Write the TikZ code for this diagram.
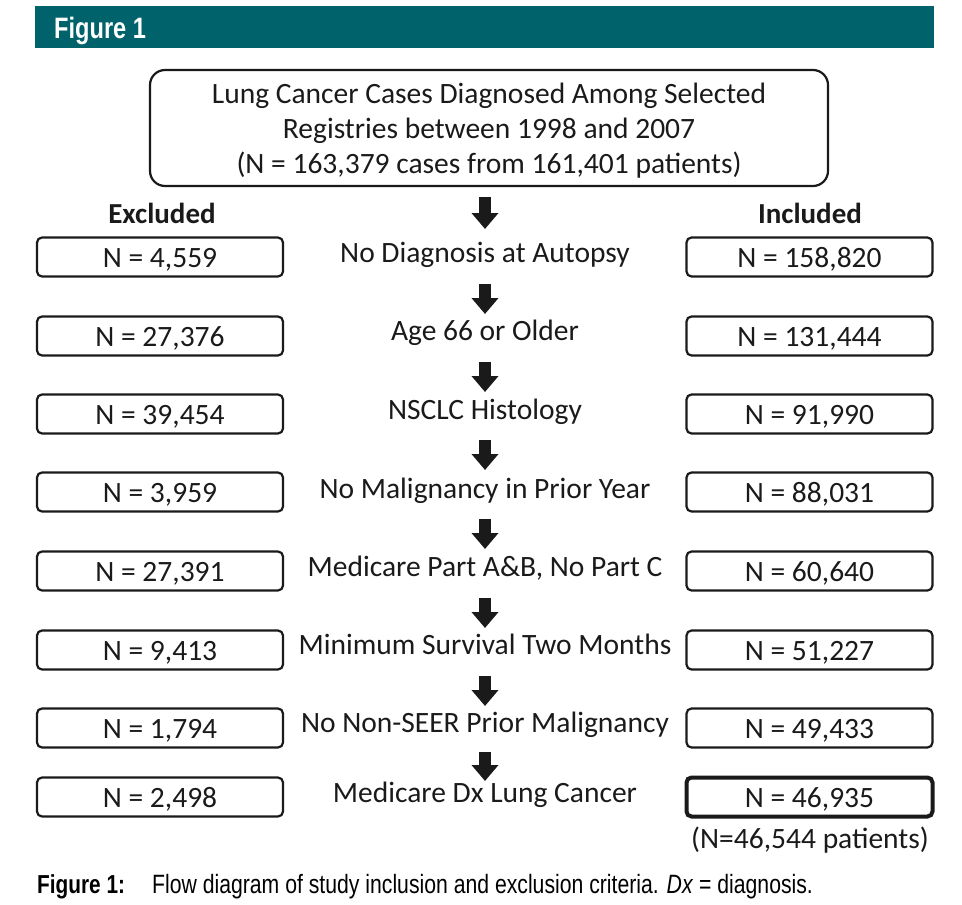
\documentclass[tikz,border=0pt]{standalone}
\usepackage{fontspec}
\setmainfont{Carlito}
\newfontfamily\condfont[FakeStretch=0.80]{Liberation Sans}
\usetikzlibrary{arrows.meta}
\definecolor{teal1}{HTML}{00626A}
\definecolor{ink}{HTML}{1A1A1A}
\tikzset{
  nbox/.style={draw=ink, line width=2.2pt, rounded corners=5pt, minimum width=246pt, minimum height=39pt, inner sep=0pt, text height=20pt, text depth=0pt, font=\fontsize{29.5}{34}\selectfont, text=ink},
  crit/.style={font=\fontsize{29.5}{34}\selectfont, text=ink, inner sep=0pt, anchor=base},
  hdr/.style={font=\bfseries\fontsize{29}{34}\selectfont, text=ink},
  blockarrow/.style={line width=12pt, ink, -{Triangle[width=26pt,length=16pt]}}
}
\begin{document}
\begin{tikzpicture}[x=1pt,y=-1pt]
\useasboundingbox (0,0) rectangle (962,905);
% header
\fill[teal1] (35,6) rectangle (934,48);
\node[anchor=base west, text=white, inner sep=0pt, font=\condfont\bfseries\fontsize{29.5}{32}\selectfont] (fig) at (54,38) {Figure 1};
% top box
\node[draw=ink, line width=2.2pt, rounded corners=15pt, minimum width=678pt, minimum height=116pt] (top) at (489,128) {};
\node[align=center, font=\fontsize{29.5}{35}\selectfont, text=ink, inner sep=0pt] (toptext) at (489,131) {Lung Cancer Cases Diagnosed Among Selected\\Registries between 1998 and 2007\\(N = 163,379 cases from 161,401 patients)};
\node[hdr] (exc) at (162,213) {Excluded};
\node[hdr] (inc) at (810,213) {Included};
% excluded
\node[nbox] (e1) at (160,257) {N = 4,559};
\node[nbox] (e2) at (160,336) {N = 27,376};
\node[nbox] (e3) at (160,414) {N = 39,454};
\node[nbox] (e4) at (160,492) {N = 3,959};
\node[nbox] (e5) at (160,571) {N = 27,391};
\node[nbox] (e6) at (160,650) {N = 9,413};
\node[nbox] (e7) at (160,728) {N = 1,794};
\node[nbox] (e8) at (160,797) {N = 2,498};
% criteria
\node[crit] (m1) at (485,262) {No Diagnosis at Autopsy};
\node[crit] (m2) at (485,340) {Age 66 or Older};
\node[crit] (m3) at (485,419) {NSCLC Histology};
\node[crit] (m4) at (485,498) {No Malignancy in Prior Year};
\node[crit] (m5) at (485,576) {Medicare Part A\&B, No Part C};
\node[crit] (m6) at (485,654) {Minimum Survival Two Months};
\node[crit] (m7) at (485,732) {No Non-SEER Prior Malignancy};
\node[crit] (m8) at (485,802) {Medicare Dx Lung Cancer};
% included
\node[nbox] (r1) at (809.5,257) {N = 158,820};
\node[nbox] (r2) at (809.5,336) {N = 131,444};
\node[nbox] (r3) at (809.5,414) {N = 91,990};
\node[nbox] (r4) at (809.5,492) {N = 88,031};
\node[nbox] (r5) at (809.5,571) {N = 60,640};
\node[nbox] (r6) at (809.5,650) {N = 51,227};
\node[nbox] (r7) at (809.5,728) {N = 49,433};
\node[nbox, line width=4pt] (r8) at (809.5,797) {N = 46,935};
\node[font=\fontsize{29.5}{34}\selectfont, text=ink, inner sep=0pt] (pat) at (810,840) {(N=46,544 patients)};
% arrows
\coordinate (a0) at (485,197); \coordinate (b0) at (485,229);
\coordinate (a1) at (485,284); \coordinate (b1) at (485,314);
\coordinate (a2) at (485,362); \coordinate (b2) at (485,392);
\coordinate (a3) at (485,440); \coordinate (b3) at (485,470);
\coordinate (a4) at (485,519); \coordinate (b4) at (485,549);
\coordinate (a5) at (485,598); \coordinate (b5) at (485,628);
\coordinate (a6) at (485,676); \coordinate (b6) at (485,706);
\coordinate (a7) at (485,752); \coordinate (b7) at (485,781);
\foreach \k in {0,...,7}{\draw[blockarrow] (a\k) -- (b\k);}
% caption
\node[anchor=base west, inner sep=0pt, font=\condfont\bfseries\fontsize{26}{28}\selectfont] (capl) at (37,893) {Figure 1:};
\node[anchor=base west, inner sep=0pt, font=\condfont\fontsize{26.5}{28}\selectfont] (capt) at (152,893) {Flow diagram of study inclusion and exclusion criteria. \textit{Dx} = diagnosis.};
\end{tikzpicture}
\end{document}
